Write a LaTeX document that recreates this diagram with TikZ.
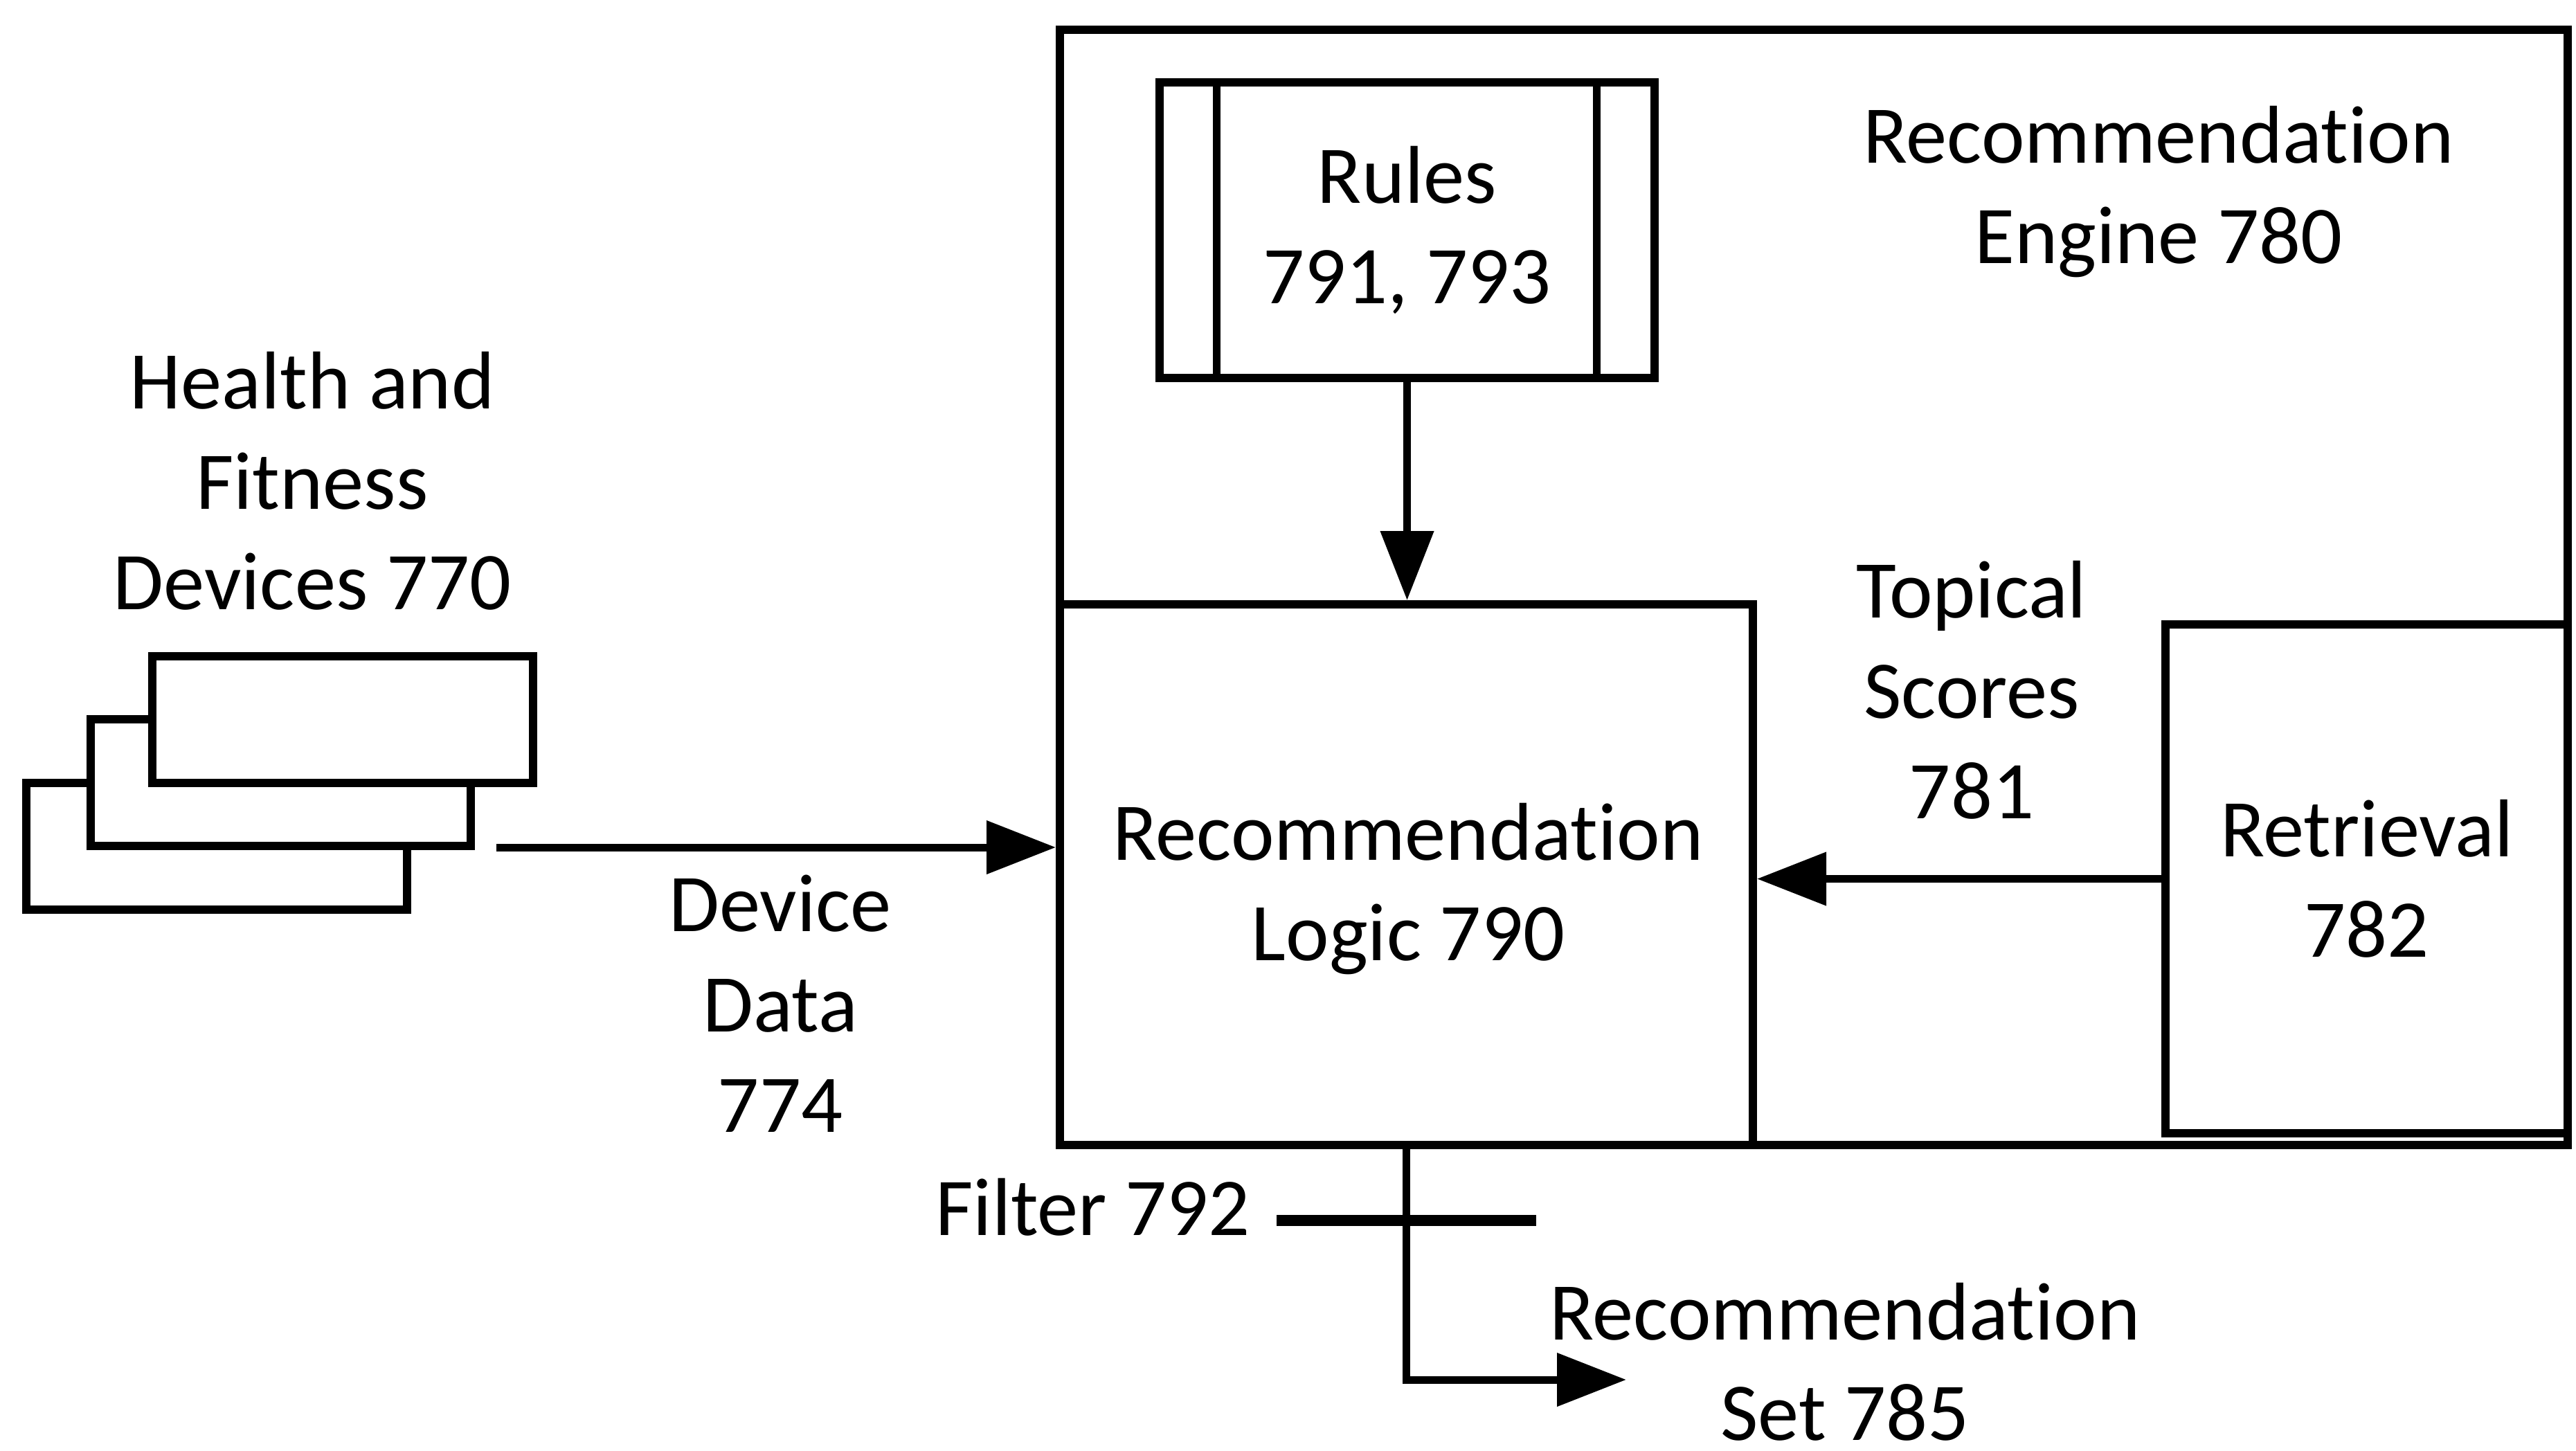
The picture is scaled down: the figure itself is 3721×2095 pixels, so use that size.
\documentclass[tikz,border=0pt]{standalone}
\usepackage{fontspec}
\setmainfont[Ligatures=NoCommon]{Carlito}
\usetikzlibrary{arrows.meta,calc}
\begin{document}
\begin{tikzpicture}[x=0.1pt,y=-0.1pt,
  box/.style={draw,line width=1.2pt,fill=white,inner sep=0pt,align=center,font=\fontsize{11.85pt}{14.5pt}\selectfont},
  lbl/.style={align=center,inner sep=0pt,font=\fontsize{11.85pt}{14.5pt}\selectfont},
  conn/.style={line width=1.1pt,-{Triangle[length=10pt,width=7.5pt]}}]
\useasboundingbox (0,0) rectangle (3721,2095);
% engine
\node[box,minimum width=217.8pt,minimum height=161.1pt] (eng) at (2620,848.5) {};
\node[lbl] (englbl) at (3118,277) {Recommendation\\Engine 780};
% rules
\node[box,minimum width=71.5pt,minimum height=42.7pt] (rules) at (2032.5,332.5) {Rules\\791, 793};
\draw[line width=1.1pt] ([xshift=8.8pt]rules.north west) -- ([xshift=8.8pt]rules.south west);
\draw[line width=1.1pt] ([xshift=-9pt]rules.north east) -- ([xshift=-9pt]rules.south east);
% logic
\node[box,minimum width=100.1pt,minimum height=78.1pt] (logic) at (2031.5,1263.5) {};
\node[lbl] (logiclbl) at (2034,1284) {Recommendation\\Logic 790};
% retrieval
\node[box,minimum width=58.1pt,minimum height=73.5pt] (ret) at (3418.5,1269.5) {Retrieval\\782};
\node[lbl] (topical) at (2848,997) {Topical\\Scores\\781};
% devices
\node[box,minimum width=55pt,minimum height=18.3pt] (dev1) at (313,1222) {};
\node[box,minimum width=55pt,minimum height=18.3pt] (dev2) at (405.5,1130.5) {};
\node[box,minimum width=55pt,minimum height=18.3pt] (dev3) at (495,1039.5) {};
\node[lbl] (devlbl) at (451,695) {Health and\\Fitness\\Devices 770};
\coordinate (ds) at (717,1224);
\node[lbl] (ddlbl) at (1127,1450) {Device\\Data\\774};
% connectors
\draw[conn] (rules.south) -- (rules.south |- logic.north);
\draw[conn] (ds) -- (ds -| logic.west);
\draw[conn] (ret.west) -- (ret.west -| logic.east);
% filter and output
\coordinate (fe) at (2349,1993);
\draw[conn] (logic.south) |- (fe);
\coordinate (fa) at (1844,1763);
\coordinate (fb) at (2219,1763);
\draw[line width=1.6pt] (fa) -- (fb);
\node[lbl,anchor=east] (filt) at (1808,1744) {Filter 792};
\node[lbl] (rslbl) at (2665,1967) {Recommendation\\Set 785};
\end{tikzpicture}
\end{document}
